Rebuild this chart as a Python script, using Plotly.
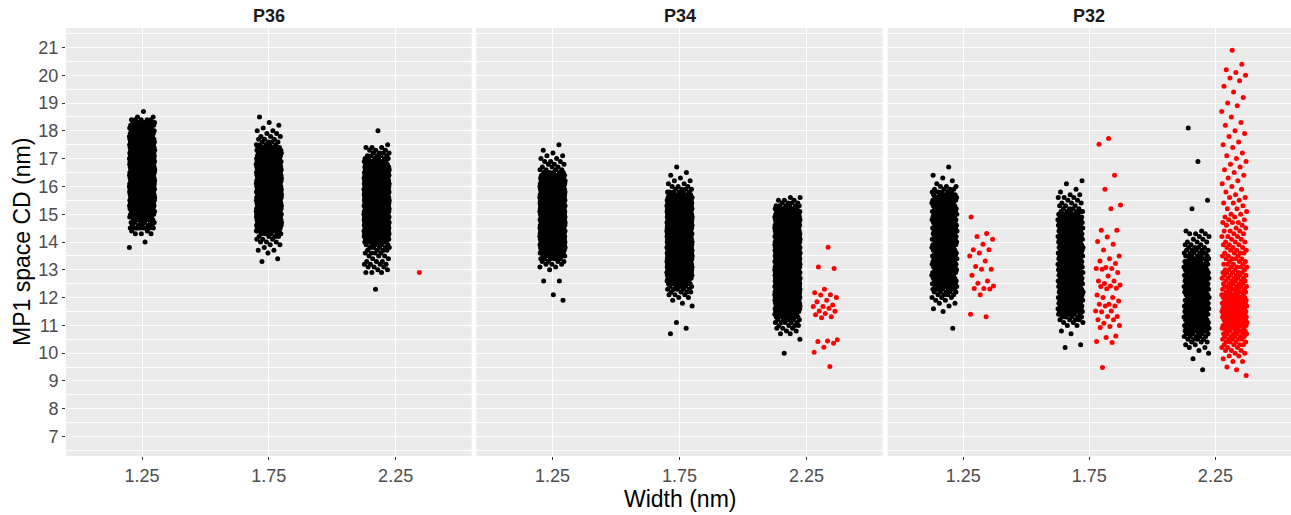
import plotly.graph_objects as go

# ---------------- data ----------------
FACETS = ["P36", "P34", "P32"]
WIDTHS = ["1.25", "1.75", "2.25"]
BIN = 0.1  # histogram bin width (nm) used for the dense clusters

# dense groups: (lowest value, counts per 0.1 nm bin going upwards)
p36_w125_black = (13.8, [1,0,1,0,0,3,2,9,5,6, 7,8,10,10,14,16,18,20,22,22,
                         22,24,24,24,24,24,24,24,22,22, 22,22,20,20,20,20,18,18,18,16,
                         16,12,10,10,9,8,5,2,0,1])
p36_w175_black = (13.3, [1,1,0,1,2,1,2,3,3,4, 6,10,16,20,22,24,24,24,24,24,
                         24,24,24,24,24,24,24,24,22,22, 22,20,20,18,18,16,16,14,14,12,
                         12,8,5,4,3,3,2,2,1,1, 1,0,1])
p36_w225_black = (12.3, [1,0,0,0,0,0,3,2,3,4, 3,2,3,4,4,5,6,8,12,18,
                         22,24,24,26,26,26,26,26,26,26, 26,26,26,26,24,24,24,24,22,22,
                         20,20,18,16,14,12,8,6,5,4, 3,3,1,0,0,0,0,1])
p34_w125_black = (11.9, [1,0,1,0,0,0,0,2,0,0, 0,1,2,3,4,6,8,12,16,20,
                         22,24,26,26,26,26,26,26,26,26, 26,26,26,26,26,26,26,26,26,24,
                         24,22,20,18,16,10,6,4,3,3, 3,2,2,1,1,0,1])
p34_w175_black = (10.6, [0,1,0,1,0,1,0,0,0,0, 0,1,1,1,2,3,4,5,6,8,
                         10,14,18,22,24,26,26,26,26,26, 26,26,26,26,26,26,26,26,26,26,
                         26,26,26,26,24,24,22,22,20,18, 14,10,6,4,3,2,2,1,1,1, 0,1])
p34_w225_black = (10.0, [1,0,0,0,0,1,0,2,2,3, 4,5,6,8,10,14,18,20,22,24,
                         26,26,26,26,26,26,26,26,26,26, 26,26,26,26,26,26,26,26,26,26,
                         26,26,24,24,22,22,20,20,18,18, 16,14,10,6,4,3,2])
p32_w125_black = (10.9, [1,0,0,0,0,0,1,1,1,2, 2,3,4,5,7,9,9,9,9,9,
                         9,9,9,9,9,9,9,9,9,9, 9,9,9,9,9,9,9,9,9,9,
                         9,9,9,9,9,9,8,8,7,6, 4,3,1,1,1,1,0,0,1])
p32_w175_black = (10.2, [1,1,0,0,0,1,1,0,2,3, 4,5,7,8,9,9,9,9,9,9,
                         9,9,9,9,9,9,9,9,9,9, 9,9,9,9,9,9,9,9,9,9,
                         9,9,9,9,9,9,8,8,7,6, 4,3,3,2,3,2,1,1,0,1,1])
p32_w225_black = (9.4, [1,0,0,0,1,0,1,1,2,2, 3,4,5,6,8,8,8,8,8,8,
                        8,8,8,8,8,8,8,8,8,8, 8,8,8,8,8,8,8,8,8,7,
                        7,6,6,5,4,3,3,2,2,3, 2])
p32_w225_black_extra = [15.2, 15.5, 16.9, 18.1]
p32_w225_red = (9.2, [1,0,1,1,0,2,1,2,
                      2,3,3,4,4,5,5,6,6,7,
                      9,9,10,10,10,10,10,9,9,9,
                      8,7,6,6,6,5,5,5,5,5,
                      4,4,4,3,4,3,4,3,3,3,
                      3,2,3,2,3,2,2,3,2,2,
                      2,1,2,1,2,1,2,1,1,1,
                      1,1,1,1,1,1,1,1,1,1,
                      1,1,1,0,1,1,1,0,1,1,
                      1,0,1,1,0,1,0,1,0,1,
                      1,0,1,0,1,0,1,0,1,1,
                      1,1,1,0,1,0,0,0,0,1])

# sparse groups: individual values
p36_w225_red = [12.9]
p34_w225_red = [13.81, 13.1, 13.05, 12.3, 12.17, 12.1, 12.09, 12.0, 11.9, 11.85,
                11.73, 11.68, 11.68, 11.62, 11.52, 11.51, 11.43, 11.38, 11.31, 11.27,
                10.48, 10.44, 10.42, 10.36, 10.21, 10.03, 9.52]
p32_w125_red = [14.9, 14.31, 14.2, 14.1, 13.92, 13.72, 13.72, 13.6, 13.5, 13.32,
                13.12, 13.02, 13.02, 12.8, 12.6, 12.52, 12.42, 12.33, 12.33, 12.31,
                12.1, 11.4, 11.31]
p32_w175_red = [17.72, 17.52, 16.4, 15.9, 15.33, 15.2, 14.42, 14.42, 14.18, 14.02,
                13.92, 13.71, 13.5, 13.4, 13.32, 13.23, 13.08, 13.05, 13.05, 13.02,
                12.9, 12.78, 12.6, 12.6, 12.51, 12.45, 12.42, 12.4, 12.34, 12.32,
                12.09, 12.0, 12.0, 11.88, 11.76, 11.76, 11.7, 11.7, 11.52, 11.52,
                11.49, 11.32, 11.32, 11.2, 11.2, 11.08, 11.0, 10.96, 10.92, 10.62,
                10.56, 10.42, 10.38, 9.48]

Y_TICKS = list(range(7, 22))


def expand(hist, extra=()):
    lo, counts = hist
    ys = []
    for i, c in enumerate(counts):
        ys += [round(lo + BIN * i, 2)] * c
    return ys + list(extra)


# (facet, width index, group, values)
groups = [
    ("P36", 0, "black", expand(p36_w125_black)),
    ("P36", 1, "black", expand(p36_w175_black)),
    ("P36", 2, "black", expand(p36_w225_black)),
    ("P36", 2, "red", p36_w225_red),
    ("P34", 0, "black", expand(p34_w125_black)),
    ("P34", 1, "black", expand(p34_w175_black)),
    ("P34", 2, "black", expand(p34_w225_black)),
    ("P34", 2, "red", p34_w225_red),
    ("P32", 0, "black", expand(p32_w125_black)),
    ("P32", 0, "red", p32_w125_red),
    ("P32", 1, "black", expand(p32_w175_black)),
    ("P32", 1, "red", p32_w175_red),
    ("P32", 2, "black", expand(p32_w225_black, p32_w225_black_extra)),
    ("P32", 2, "red", expand(p32_w225_red)),
]

# which (facet, width) cells have both colour groups -> dodge
present = {}
for f, w, g, _ in groups:
    present.setdefault((f, w), set()).add(g)

DODGE = 0.15
JIT = 0.1
PHI = 0.6180339887

fig = go.Figure()
axis_id = {"P36": "", "P34": "2", "P32": "3"}
for gi, (f, w, g, ys) in enumerate(groups):
    centre = w + 1
    if len(present[(f, w)]) == 2:
        centre += -DODGE if g == "black" else DODGE
    xs = [centre + ((((k + 0.37 * gi) * PHI) % 1.0) - 0.5) * 2 * JIT for k in range(len(ys))]
    fig.add_trace(go.Scatter(
        x=xs, y=ys, mode="markers",
        marker=dict(color="#000000" if g == "black" else "#FF0000", size=5, line=dict(width=0)),
        xaxis="x" + axis_id[f], yaxis="y" + axis_id[f],
        showlegend=False, hoverinfo="skip"))

L, W = 66, 1225
domains = [[0, 405.7 / W], [(476.3 - L) / W, (882.7 - L) / W], [(887.7 - L) / W, 1.0]]
YR = [6.3, 21.7]

layout = dict(
    width=1291, height=515,
    margin=dict(l=L, r=0, t=28, b=59),
    paper_bgcolor="white", plot_bgcolor="#EBEBEB",
    font=dict(family="Liberation Sans, Arial, sans-serif", color="#4D4D4D"),
)
for i, f in enumerate(FACETS):
    sfx = "" if i == 0 else str(i + 1)
    layout["xaxis" + sfx] = dict(
        domain=domains[i], anchor="y" + sfx, range=[0.4, 3.6],
        tickvals=[1, 2, 3], ticktext=WIDTHS, showgrid=True, gridcolor="white", gridwidth=1.1,
        zeroline=False, ticks="outside", ticklen=3, tickcolor="#333333", tickwidth=1.1,
        tickfont=dict(size=18, color="#4D4D4D"), showline=False)
    ydict = dict(
        anchor="x" + sfx, range=YR, tickvals=Y_TICKS, showgrid=True, gridcolor="white",
        gridwidth=1.1, zeroline=False, showline=False,
        minor=dict(dtick=0.5, tick0=0, showgrid=True, gridcolor="white", gridwidth=0.5),
        domain=[0, 1])
    if i == 0:
        ydict.update(ticks="outside", ticklen=3, tickcolor="#333333", tickwidth=1.1,
                     tickfont=dict(size=18, color="#4D4D4D"))
    else:
        ydict.update(showticklabels=False, ticks="", matches="y")
    layout["yaxis" + sfx] = ydict

anns = []
for i, f in enumerate(FACETS):
    anns.append(dict(text="<b>" + f + "</b>", x=(domains[i][0] + domains[i][1]) / 2, y=1,
                     xref="paper", yref="paper", xanchor="center", yanchor="middle",
                     yshift=12, showarrow=False, font=dict(size=18, color="#1A1A1A")))
anns.append(dict(text="Width (nm)", x=(domains[1][0] + domains[1][1]) / 2, y=0,
                 xref="paper", yref="paper", xanchor="center", yanchor="middle",
                 yshift=-43, showarrow=False, font=dict(size=23, color="#000000")))
anns.append(dict(text="MP1 space CD (nm)", x=0, y=0.5, xref="paper", yref="paper",
                 xanchor="center", yanchor="middle", xshift=-L + 22, textangle=-90,
                 showarrow=False, font=dict(size=23, color="#000000")))
layout["annotations"] = anns

fig.update_layout(**layout)
fig.write_html("out.html")
